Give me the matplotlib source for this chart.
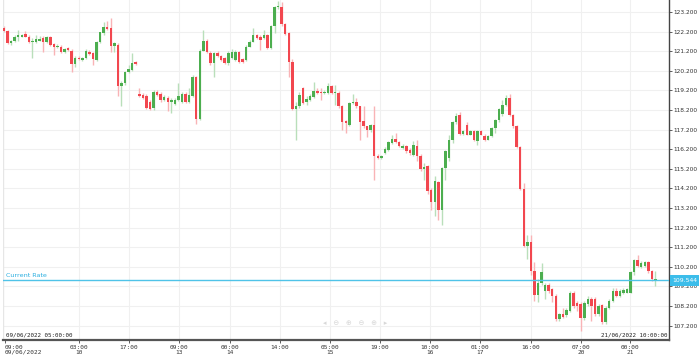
import matplotlib
matplotlib.use("Agg")
import matplotlib.pyplot as plt
from matplotlib.patches import Rectangle

# ---------------- data (hourly candles) ----------------
opens = [122.37,122.25,121.61,121.72,121.91,121.94,122.06,121.94,121.66,121.69,
         121.74,121.86,121.66,121.91,121.56,121.40,121.43,121.15,121.35,121.23,
         120.55,120.87,120.76,120.84,121.18,121.10,120.76,121.66,122.12,122.45,
         122.37,121.48,121.52,119.40,119.57,120.16,120.25,120.64,119.03,118.98,
         118.89,118.63,118.30,119.14,119.03,118.72,118.81,118.63,118.52,118.72,
         118.63,119.00,118.63,118.92,119.88,117.74,121.23,121.74,121.10,120.59,
         121.10,120.93,120.84,120.59,120.84,120.76,121.15,120.79,120.76,121.43,
         121.69,122.03,121.94,121.86,122.03,121.35,122.49,123.44,123.47,122.59,
         122.11,120.67,118.25,118.42,119.32,118.63,118.72,118.86,119.19,119.14,
         119.06,119.09,119.40,119.06,119.09,118.38,117.62,117.45,118.55,118.63,
         118.38,117.62,117.36,117.19,117.45,115.87,115.75,116.01,116.18,116.52,
         116.72,116.55,116.25,116.34,116.18,115.92,116.38,115.87,115.19,115.33,
         114.10,113.49,114.51,113.09,115.25,115.75,116.65,117.57,117.96,116.99,
         117.45,116.94,117.11,116.60,117.11,116.89,116.69,116.85,117.28,117.67,
         118.01,118.47,118.81,117.96,117.40,116.31,114.18,111.26,111.46,109.98,
         108.75,109.39,108.97,109.26,109.05,108.71,107.56,107.78,107.73,107.95,
         108.85,108.37,108.29,107.61,108.29,108.58,108.58,107.78,108.24,107.39,
         108.12,108.46,108.97,108.71,108.85,108.88,108.88,109.93,110.54,110.20,
         110.24,110.44,109.98,109.53]
highs = [122.50,122.30,121.78,122.00,122.30,122.10,122.25,122.00,121.85,122.05,
         121.95,121.95,121.95,121.95,121.60,121.55,121.50,121.35,121.40,121.30,
         120.95,120.95,120.90,121.30,121.25,121.15,121.70,122.20,122.69,122.74,
         122.90,121.65,121.60,119.70,120.20,120.50,121.10,120.70,119.33,119.05,
         119.00,118.70,119.20,119.20,119.10,118.95,118.90,118.80,118.80,119.60,
         119.10,119.10,119.30,120.00,119.95,121.30,122.28,121.80,121.20,121.15,
         121.20,121.00,120.90,121.20,121.30,121.25,121.20,120.85,121.50,121.75,
         122.37,122.10,122.00,122.30,122.10,122.55,123.50,123.75,123.70,122.65,
         122.20,120.80,118.60,119.10,119.35,118.90,119.00,119.65,119.30,119.30,
         119.20,119.57,119.50,119.45,119.15,118.45,117.70,118.60,119.03,118.80,
         118.40,118.38,117.40,117.50,118.38,115.95,115.90,116.30,116.60,116.95,
         117.02,116.60,116.45,116.40,116.25,116.60,116.69,115.95,115.51,115.40,
         114.20,114.82,114.60,115.30,116.15,116.90,117.65,118.04,118.10,117.20,
         117.60,117.20,117.20,117.20,117.20,117.00,116.95,117.35,117.75,118.30,
         118.72,118.98,119.00,118.00,117.45,116.35,114.50,111.85,111.80,110.43,
         109.60,110.41,109.40,109.40,109.10,108.80,107.85,108.10,108.10,108.95,
         108.95,108.45,108.40,108.45,108.70,108.65,108.65,108.30,108.30,108.20,
         108.55,109.14,109.10,109.05,109.10,109.10,110.00,110.60,110.83,110.50,
         110.50,110.50,110.05,109.97]
lows = [122.20,121.55,121.50,121.65,121.70,121.90,121.90,121.60,120.86,121.60,
        121.70,121.18,121.60,121.45,120.98,121.35,121.10,121.10,121.20,120.16,
        120.40,120.75,120.70,120.80,121.00,120.50,120.70,121.60,122.05,122.30,
        121.16,121.18,118.92,118.38,119.50,120.10,120.20,120.50,118.85,118.75,
        118.25,118.20,118.20,118.90,118.60,118.65,118.13,118.06,118.45,118.65,
        118.55,118.55,118.55,118.85,117.50,117.70,121.20,121.10,120.50,119.90,
        120.90,120.70,120.55,120.50,120.80,120.70,120.60,120.60,120.70,121.40,
        121.65,121.80,121.27,121.80,121.30,121.30,122.13,123.35,122.50,122.00,
        119.90,118.20,116.69,118.30,118.50,118.47,118.65,118.80,119.00,118.72,
        119.00,119.00,119.00,118.47,118.30,117.19,117.02,117.40,118.50,118.30,
        116.69,117.30,116.80,117.10,114.65,115.70,115.70,115.95,116.10,116.45,
        116.50,116.30,116.20,116.00,115.90,115.85,115.60,115.10,114.65,113.90,
        113.12,112.78,112.58,112.36,114.65,115.60,116.50,117.50,116.90,116.95,
        116.90,116.90,116.60,116.43,116.90,116.60,116.65,116.80,117.02,117.60,
        117.90,118.40,117.90,117.30,116.25,114.10,111.20,110.58,109.80,108.46,
        108.41,109.30,108.54,108.85,108.39,107.45,107.44,107.60,107.65,107.90,
        108.10,107.95,106.93,107.50,108.20,107.44,107.70,107.70,107.30,107.30,
        108.05,108.40,108.65,108.65,108.80,108.85,108.85,109.81,110.20,110.15,
        110.20,109.90,109.50,109.22]
closes = [122.25,121.61,121.72,121.94,122.01,122.01,121.94,121.66,121.72,121.82,
          121.81,121.69,121.91,121.52,121.43,121.48,121.15,121.30,121.27,120.55,
          120.87,120.81,120.87,121.23,121.06,120.79,121.66,122.17,122.42,122.33,
          121.48,121.61,119.40,119.57,120.16,120.28,120.62,120.55,118.92,118.81,
          118.30,118.25,119.14,118.98,118.72,118.86,118.63,118.72,118.72,118.92,
          119.03,118.63,118.98,119.88,117.74,121.23,121.74,121.18,120.59,121.10,
          120.96,120.76,120.62,121.10,121.18,121.18,120.67,120.67,121.43,121.69,
          122.03,121.86,121.77,122.03,121.35,122.49,123.44,123.50,122.59,122.08,
          120.67,118.25,118.42,118.98,118.55,118.76,118.92,119.19,119.09,119.06,
          119.14,119.43,119.09,119.14,118.38,117.57,117.54,118.55,118.63,118.38,
          117.57,117.36,117.19,117.45,115.84,115.75,115.84,116.21,116.55,116.72,
          116.55,116.34,116.38,116.09,116.01,116.43,115.87,115.19,115.29,114.05,
          113.49,114.56,113.09,115.25,116.09,116.65,117.57,117.87,116.99,117.11,
          116.94,117.11,116.69,117.11,116.94,116.69,116.89,117.28,117.67,118.25,
          118.47,118.81,117.96,117.36,116.31,114.18,111.26,111.46,109.98,108.75,
          109.39,109.93,109.26,108.97,108.71,107.56,107.78,107.66,108.00,108.88,
          108.20,108.20,107.61,108.37,108.58,108.20,107.78,108.20,107.39,108.12,
          108.46,108.97,108.71,108.97,109.02,109.05,109.93,110.54,110.24,110.41,
          110.44,109.98,109.56,109.60]

y_ticks = [107.2,108.2,109.2,110.2,111.2,112.2,113.2,114.2,115.2,116.2,
           117.2,118.2,119.2,120.2,121.2,122.2,123.2]
x_tick_pos = [0.3, 21.1, 35.1, 49.2, 63.5, 77.5, 91.6, 105.6, 119.7, 133.7, 148.0, 162.1, 175.8]
x_tick_labels = ["09:00\n09/06/2022", "03:00\n10", "17:00", "09:00\n13", "00:00\n14",
                 "14:00", "05:00\n15", "19:00", "10:00\n16", "01:00\n17", "16:00",
                 "07:00\n20", "00:00\n21"]
current_rate = 109.544
start_label = "09/06/2022 05:00:00"
end_label = "21/06/2022 10:00:00"

# ---------------- figure ----------------
W, H = 699, 355
fig = plt.figure(figsize=(W/100, H/100), dpi=100)
fig.patch.set_facecolor("white")
L, R, B, T = 3, 669, 340, 0
ax = fig.add_axes([L/W, 1 - B/H, (R-L)/W, (B-T)/H])
ax.set_facecolor("white")

ax.set_xlim(-0.28, 186.8)
ax.set_ylim(106.47, 123.81)

GREEN = "#4cae4f"
RED = "#f2474f"
GREEN_W = "#b9dfba"
RED_W = "#f9b3b6"

bw = 0.7
for i, (o, h, l, c) in enumerate(zip(opens, highs, lows, closes)):
    up = c >= o
    ax.vlines(i, l, h, color=GREEN_W if up else RED_W, lw=1.0, zorder=2)
    lo, hi = min(o, c), max(o, c)
    hgt = max(hi - lo, 0.04)
    ax.add_patch(Rectangle((i - bw/2, lo), bw, hgt, facecolor=GREEN if up else RED,
                           edgecolor="none", zorder=3))

# grid
for y in y_ticks:
    ax.axhline(y, color="#f0f0f0", lw=0.8, zorder=0)
for x in x_tick_pos[1:]:
    ax.axvline(x, color="#f0f0f0", lw=0.8, zorder=0)

# current rate
ax.axhline(current_rate, color="#4fc3e8", lw=1.0, zorder=4)
ax.text(0.5, current_rate + 0.08, "Current Rate", color="#29aee0", fontsize=4.6,
        va="bottom", ha="left", zorder=5)

# axes styling
for s in ["top", "left"]:
    ax.spines[s].set_visible(False)
ax.spines["right"].set_color("#444444")
ax.spines["right"].set_linewidth(1.0)
ax.spines["bottom"].set_color("#555555")
ax.spines["bottom"].set_linewidth(1.6)
ax.axvline(-0.28, color="#e6e6e6", lw=1.0)

ax.yaxis.tick_right()
ax.set_yticks(y_ticks)
ax.set_yticklabels([f"{v:.3f}" for v in y_ticks], fontsize=4.2, color="#333333",
                   family="DejaVu Sans")
ax.tick_params(axis="y", length=2, width=0.6, color="#444444", pad=1.2)

ax.set_xticks(x_tick_pos)
ax.set_xticklabels(x_tick_labels, fontsize=4.4, color="#333333", family="DejaVu Sans Mono",
                   linespacing=0.95)
ax.get_xticklabels()[0].set_ha("left")
ax.tick_params(axis="x", length=2, width=0.6, color="#444444", pad=1.5)

# overlay date labels
ax.text(0.5, 106.62, start_label, fontsize=4.2, color="#222222", ha="left", va="bottom",
        family="DejaVu Sans Mono", zorder=6)
ax.text(186.5, 106.62, end_label, fontsize=4.2, color="#222222", ha="right", va="bottom",
        family="DejaVu Sans Mono", zorder=6)

# current rate tag on axis
fig.patches.append(Rectangle((670/W, 1 - 286/H), 29/W, 11/H, transform=fig.transFigure,
                             facecolor="#3cbdea", edgecolor="none"))
fig.text(672/W, 1 - 280.5/H, f"{current_rate:.3f}", color="white", fontsize=4.4,
         va="center", ha="left", family="DejaVu Sans")

# faint navigation icons
ax.text(98.5, 107.35, "◂   ⊖   ⊕   ⊖   ⊕   ▸", color="#d8d8d8", fontsize=5,
        ha="center", va="center", zorder=1, family=["DejaVu Sans"])

fig.savefig("out.png", dpi=100)
